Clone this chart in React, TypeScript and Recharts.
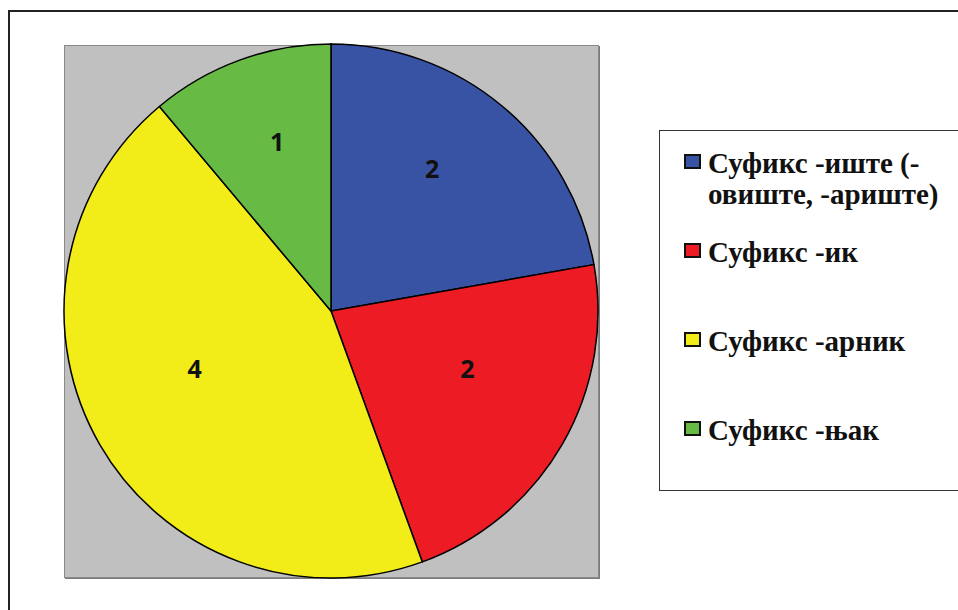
import { PieChart, Pie, Cell, Legend } from "recharts"

const SUFFIXES = [
  "Суфикс -иште (-овиште, -ариште)",
  "Суфикс -ик",
  "Суфикс -арник",
  "Суфикс -њак",
]
const COUNTS = [2, 2, 4, 1]
const COLORS = ["#3953A4", "#ED1C24", "#F2EC19", "#67BB45"]

const data = SUFFIXES.map((name, i) => ({ name, value: COUNTS[i] }))

const RAD = Math.PI / 180
const SERIF = "'Liberation Serif', 'Times New Roman', Tinos, 'DejaVu Serif', serif"

function renderLabel(props: any) {
  const { cx, cy, midAngle, outerRadius, value } = props
  const r = outerRadius * 0.59
  const x = cx + r * Math.cos(-midAngle * RAD)
  const y = cy + r * Math.sin(-midAngle * RAD) - 22
  return (
    <text
      x={x}
      y={y}
      textAnchor="middle"
      dominantBaseline="central"
      fontFamily="'Open Sans', sans-serif"
      fontWeight={700}
      fontSize={25}
      fill="#111"
    >
      {value}
    </text>
  )
}

// legend keeps the series order (recharts would sort the payload by name)
function LegendBox() {
  return (
    <div
      style={{
        boxSizing: "border-box",
        width: 320,
        height: 361,
        border: "1.5px solid #333",
        background: "#fff",
        paddingTop: 17,
        paddingLeft: 24,
      }}
    >
      {data.map((d, i) => (
        <div key={d.name} style={{ display: "flex", alignItems: "flex-start", height: 89 }}>
          <div
            style={{
              boxSizing: "border-box",
              width: 17,
              height: 15,
              marginTop: 6,
              marginRight: 7,
              border: "2px solid #111",
              background: COLORS[i],
              flexShrink: 0,
            }}
          />
          <div
            style={{
              width: 250,
              fontFamily: SERIF,
              fontWeight: 700,
              fontSize: 29,
              lineHeight: "31px",
              color: "#111",
              textAlign: "left",
            }}
          >
            {d.name}
          </div>
        </div>
      ))}
    </div>
  )
}

export default function App() {
  return (
    <div style={{ position: "fixed", left: 0, top: 0, width: 958, height: 610, overflow: "hidden", background: "#fff" }}>
      {/* outer frame, runs off the right and bottom edges */}
      <div
        style={{
          position: "absolute",
          left: 8,
          top: 10,
          width: 1000,
          height: 700,
          border: "2px solid #222",
          background: "#fff",
        }}
      />
      {/* plot area */}
      <div
        style={{
          position: "absolute",
          left: 64,
          top: 45,
          width: 535,
          height: 533,
          boxSizing: "border-box",
          background: "#C0C0C0",
          border: "1px solid #8a8a8a",
          boxShadow: "1px 1px 0 #7a7a7a",
        }}
      />
      <div style={{ position: "absolute", left: 0, top: 0 }}>
        <PieChart width={958} height={610} margin={{ top: 0, right: 0, bottom: 0, left: 0 }}>
          <Pie
            data={data}
            dataKey="value"
            nameKey="name"
            cx={331}
            cy={311}
            outerRadius={267}
            startAngle={90}
            endAngle={-270}
            stroke="#000"
            strokeWidth={1.5}
            label={renderLabel}
            labelLine={false}
            isAnimationActive={false}
          >
            {data.map((d, i) => (
              <Cell key={d.name} fill={COLORS[i]} />
            ))}
          </Pie>
          <Legend
            layout="vertical"
            align="right"
            verticalAlign="middle"
            content={LegendBox}
            wrapperStyle={{ left: 659, top: 130, right: "auto", bottom: "auto", width: 320, height: 361 }}
          />
        </PieChart>
      </div>
    </div>
  )
}
